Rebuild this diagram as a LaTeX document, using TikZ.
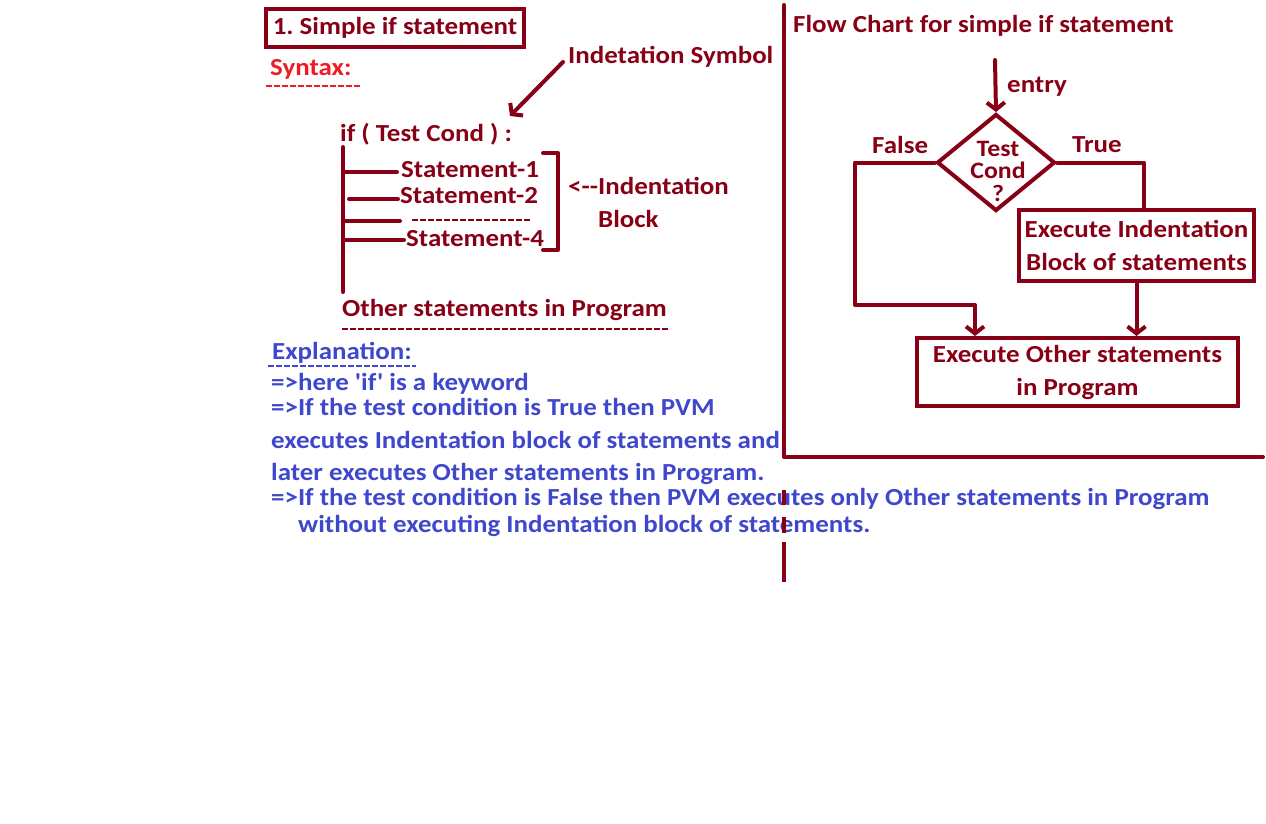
\documentclass[tikz,border=0pt]{standalone}
\usepackage{fontspec}
\setmainfont{Carlito}[Ligatures=TeXOff, FakeStretch=1.1]
\usetikzlibrary{arrows.meta,shapes.geometric}
\definecolor{dred}{RGB}{136,0,21}
\definecolor{bred}{RGB}{237,28,36}
\definecolor{pblue}{RGB}{63,72,204}
\frenchspacing
\begin{document}
\begin{tikzpicture}[x=1pt,y=-1pt,
  font=\bfseries\fontsize{24.5}{30}\selectfont,
  txt/.style={anchor=base west, inner sep=0pt, text=dred},
  btxt/.style={anchor=base west, inner sep=0pt, text=pblue},
  ctxt/.style={anchor=base, inner sep=0pt, text=dred},
  ln/.style={draw=dred, line width=4pt, line cap=round, line join=round},
  arr/.style={ln, -{Straight Barb[length=7pt,width=18pt,line width=4pt]}},
  dashline/.style={line width=2.5pt, dash pattern=on 6pt off 2pt},
  box/.style={draw=dred, line width=4pt, text=dred, align=center, inner sep=0pt,
    font=\bfseries\fontsize{24.5}{33}\selectfont}]
\path[fill=white, use as bounding box] (0,0) rectangle (1266,823);

% ---------- left part ----------
\node[box, minimum width=258pt, minimum height=38pt] (title) at (395,27.5) {1. Simple if statement};
\node[txt, text=bred] (syn) at (270,75) {Syntax:};
\draw[dashline, bred] (266,86) -- (360,86);

\node[txt] (isym) at (568,63) {Indetation Symbol};
\coordinate (isymA) at (563,62);
\coordinate (ifcol) at (510,116);
\draw[arr] (isymA) -- (ifcol);

\node[txt] (ifn) at (340,141) {if ( Test Cond ) :};
\coordinate (vtop) at (343,147);
\coordinate (vbot) at (343,292);
\draw[ln] (vtop) -- (vbot);

\node[txt] (s1) at (401,177) {Statement-1};
\node[txt] (s2) at (400,203) {Statement-2};
\node[txt] (s4) at (406,246) {Statement-4};
\draw[dred, line width=2.5pt, dash pattern=on 6pt off 2pt] (412,220) -- (530,220);
\coordinate (b1) at (345,172); \coordinate (e1) at (397,172);
\coordinate (b2) at (349,199); \coordinate (e2) at (398,199);
\coordinate (b3) at (345,221); \coordinate (e3) at (400,221);
\coordinate (b4) at (345,240); \coordinate (e4) at (404,240);
\draw[ln] (b1) -- (e1);
\draw[ln] (b2) -- (e2);
\draw[ln] (b3) -- (e3);
\draw[ln] (b4) -- (e4);
\coordinate (brA) at (543,153); \coordinate (brB) at (558,153);
\coordinate (brC) at (558,250); \coordinate (brD) at (543,250);
\draw[ln] (brA) -- (brB) -- (brC) -- (brD);

\node[txt] (ind) at (568,194) {<--Indentation};
\node[txt] (blk) at (598,227) {Block};

\node[txt] (other) at (342,316) {Other statements in Program};
\draw[dashline, dred] (342,329) -- (670,329);

\node[btxt] (expl) at (272,359) {Explanation:};
\draw[dashline, pblue] (268,366) -- (416,366);
\node[btxt] (l1) at (271,390) {=>here 'if' is a keyword};
\node[btxt] (l2) at (271,415) {=>If the test condition is True then PVM};
\node[btxt] (l3) at (271,448) {executes Indentation block of statements and};
\node[btxt] (l4) at (271,480) {later executes Other statements in Program.};
\node[btxt] (l5) at (271,505) {=>If the test condition is False then PVM executes only Other statements in Program};
\node[btxt] (l6) at (298,532) {without executing Indentation block of statements.};

% ---------- right part ----------
\coordinate (pv1) at (784,5); \coordinate (pv2) at (784,457); \coordinate (ph2) at (1263,457);
\draw[ln] (pv1) -- (pv2) -- (ph2);
\draw[ln, line cap=butt] (784,490) -- (784,505);
\draw[ln, line cap=butt] (784,517) -- (784,533);
\draw[ln, line cap=butt] (784,542) -- (784,582);

\node[txt] (fct) at (793,32) {Flow Chart for simple if statement};

\node[draw=dred, line width=4pt, shape=diamond, minimum width=118pt, minimum height=97pt, inner sep=0pt] (dia) at (996,162.5) {};
\node[text=dred, align=center, inner sep=0pt, font=\bfseries\fontsize{23.5}{22.5}\selectfont] (tc) at (998,171) {Test\\Cond\\?};

\coordinate (entryTop) at (995,60);
\draw[arr] (entryTop) -- (dia.north);
\node[txt] (entry) at (1007,92) {entry};
\node[txt] (fls) at (872,153) {False};
\node[txt] (tru) at (1072,152) {True};

\node[box, minimum width=235pt, minimum height=71pt] (ein) at (1136.5,245.5) {Execute Indentation\\Block of statements};
\node[box, minimum width=321pt, minimum height=68pt] (exo) at (1077.5,372) {Execute Other statements\\in Program};

\coordinate (fcorner) at (855,305);
\coordinate (fend) at (975,336);
\draw[arr] (dia.west) -| (fcorner) -| (fend);
\coordinate (tend) at (1144,210);
\draw[ln] (dia.east) -| (tend);
\draw[arr] (ein.south) -- (ein.south |- exo.north);
\end{tikzpicture}
\end{document}
